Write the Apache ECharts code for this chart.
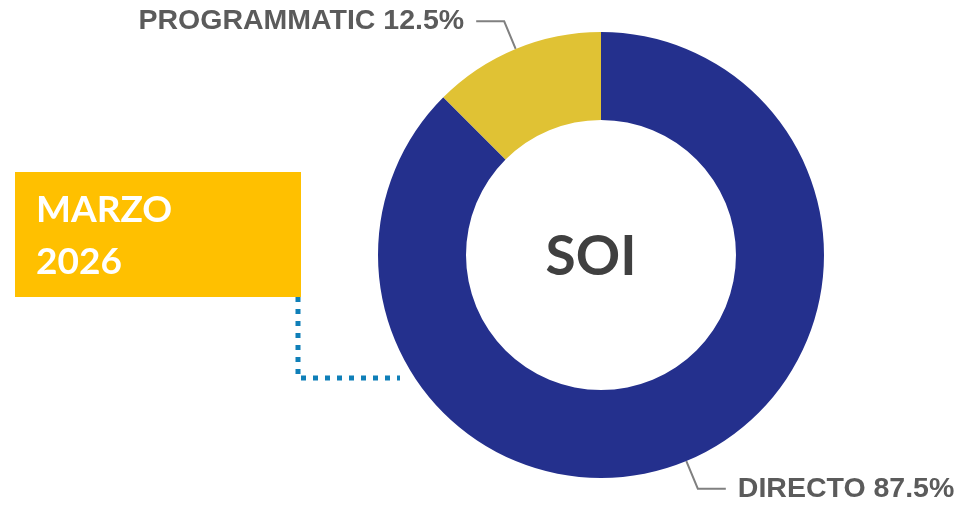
<!DOCTYPE html>
<html>
<head>
<meta charset="utf-8">
<script src="https://cdn.jsdelivr.net/npm/echarts@6/dist/echarts.min.js"></script>
<style>html,body{margin:0;padding:0;background:#fff}#c{width:960px;height:505px}</style>
</head>
<body>
<div id="c"></div>
<script>
var categories = ['DIRECTO', 'PROGRAMMATIC'];
var values = [87.5, 12.5];
var colors = ['#24308D', '#E0C234'];
var centerTitle = 'SOI';
var boxLines = ['MARZO', '2026'];

var chart = echarts.init(document.getElementById('c'), null, {renderer: 'canvas'});
chart.setOption({
  animation: false,
  backgroundColor: '#ffffff',
  series: [{
    type: 'pie',
    center: [601, 255],
    radius: [135, 223],
    startAngle: 90,
    clockwise: true,
    avoidLabelOverlap: false,
    data: categories.map(function (c, i) {
      return {name: c, value: values[i], itemStyle: {color: colors[i]}};
    }),
    label: {
      show: true,
      position: 'outside',
      formatter: function (p) { return p.name + ' ' + p.value + '%'; },
      fontFamily: 'Liberation Sans, Arial, sans-serif',
      fontWeight: 'bold',
      fontSize: 28.5,
      color: '#5b5b5b',
      distanceToLabelLine: 12
    },
    labelLine: {
      show: true,
      length: 30,
      length2: 28,
      lineStyle: {color: '#808080', width: 2}
    },
    emphasis: {disabled: true}
  }],
  graphic: [
    {type: 'rect', shape: {x: 15, y: 172, width: 286, height: 125}, style: {fill: '#FFC000'}},
    {type: 'text', style: {x: 36, y: 210, text: boxLines[0], fill: '#ffffff', font: 'bold 37px Lato, "Open Sans", sans-serif', verticalAlign: 'middle'}},
    {type: 'text', style: {x: 36, y: 262, text: boxLines[1], fill: '#ffffff', font: 'bold 37px Lato, "Open Sans", sans-serif', verticalAlign: 'middle'}},
    {type: 'polyline', shape: {points: [[298, 297], [298, 378], [400, 378]]}, style: {stroke: '#0F7FB8', lineWidth: 5, lineDash: [5, 7], fill: null}},
    {type: 'text', style: {x: 591, y: 257, text: centerTitle, fill: '#404040', font: 'bold 55px Lato, "Open Sans", sans-serif', align: 'center', verticalAlign: 'middle'}}
  ]
});
</script>
</body>
</html>
